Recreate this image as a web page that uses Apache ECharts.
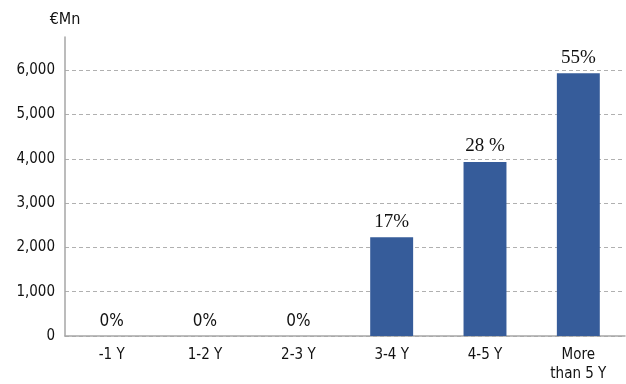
<!DOCTYPE html>
<html><head><meta charset="utf-8">
<script src="https://cdn.jsdelivr.net/npm/echarts@6/dist/echarts.min.js"></script>
<style>html,body{margin:0;padding:0;background:#fff}#c{width:626px;height:384px}</style>
</head><body><div id="c"></div>
<script>
const categories = ['-1 Y', '1-2 Y', '2-3 Y', '3-4 Y', '4-5 Y', 'More\nthan 5 Y'];
const values = [0, 0, 0, 2230, 3930, 5930];
const pctLabels = ['0%', '0%', '0%', '17%', '28 %', '55%'];
const yTicks = [0, 1000, 2000, 3000, 4000, 5000, 6000];

const sansFont = '"Liberation Sans Narrow", "DejaVu Sans Condensed", "Roboto", sans-serif';
const serifFont = '"Liberation Serif", "DejaVu Serif", serif';

const chart = echarts.init(document.getElementById('c'), null, {renderer: 'canvas'});
chart.setOption({
  animation: false,
  grid: {left: 65, right: 1, top: 37, bottom: 46},
  xAxis: {
    type: 'category',
    data: categories,
    axisLine: {lineStyle: {color: '#a6a6a6', width: 1.5}},
    axisTick: {show: false},
    axisLabel: {color: '#111', fontFamily: sansFont, fontSize: 15, margin: 10, lineHeight: 19}
  },
  yAxis: {
    type: 'value',
    min: 0, max: 6750, interval: 1000,
    name: '€Mn',
    nameLocation: 'end',
    nameGap: 9,
    nameTextStyle: {color: '#111', fontFamily: sansFont, fontSize: 16, align: 'center'},
    axisLine: {show: true, lineStyle: {color: '#a6a6a6', width: 1.5}},
    axisTick: {show: false},
    axisLabel: {
      color: '#111', fontFamily: sansFont, fontSize: 15, margin: 10,
      showMaxLabel: false,
      formatter: v => yTicks.includes(v) ? v.toLocaleString('en-US') : ''
    },
    splitLine: {show: true, showMaxLine: false, lineStyle: {color: '#b0b0b0', type: [4, 3], width: 1}}
  },
  series: [{
    type: 'bar',
    barWidth: '46%',
    itemStyle: {color: '#365c9a'},
    data: values.map((v, i) => ({
      value: v,
      label: {
        show: true,
        position: 'top',
        distance: v === 0 ? 6 : 6,
        formatter: pctLabels[i],
        color: '#111',
        fontSize: v === 0 ? 17 : 19,
        fontFamily: v === 0 ? sansFont : serifFont
      }
    }))
  }]
});
</script></body></html>
